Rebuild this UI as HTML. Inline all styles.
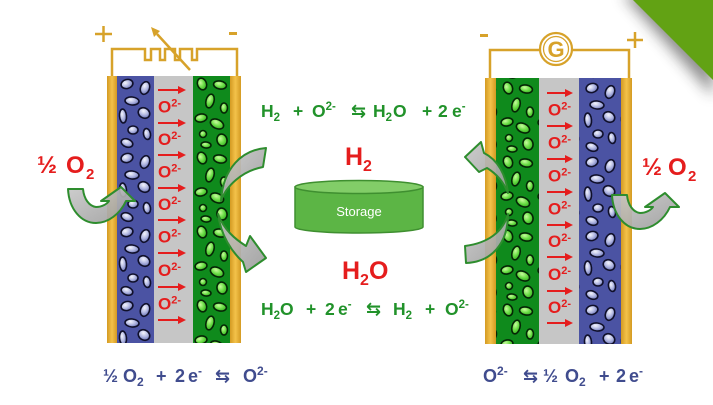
<!DOCTYPE html>
<html><head><meta charset="utf-8"><style>
html,body{margin:0;padding:0;background:#fff;}
svg{display:block;font-family:"Liberation Sans","DejaVu Sans",sans-serif;}
</style></head><body>
<svg width="713" height="405" viewBox="0 0 713 405" xmlns="http://www.w3.org/2000/svg">
<defs>
<radialGradient id="bg" cx="0.38" cy="0.35" r="0.75"><stop offset="0" stop-color="#f5f6fd"/><stop offset="0.5" stop-color="#b2b8e2"/><stop offset="1" stop-color="#5a64ac"/></radialGradient>
<radialGradient id="gg" cx="0.38" cy="0.35" r="0.75"><stop offset="0" stop-color="#c8fb9e"/><stop offset="0.5" stop-color="#6bde46"/><stop offset="1" stop-color="#2aa31b"/></radialGradient>
<linearGradient id="gold" x1="0" x2="1" y1="0" y2="0"><stop offset="0" stop-color="#d49a22"/><stop offset="0.5" stop-color="#f3c24a"/><stop offset="1" stop-color="#d49a22"/></linearGradient>
<linearGradient id="gray" x1="0" x2="1" y1="0" y2="1"><stop offset="0" stop-color="#c9c9c9"/><stop offset="1" stop-color="#9c9c9c"/></linearGradient>
<filter id="blur" x="-50%" y="-50%" width="200%" height="200%"><feGaussianBlur stdDeviation="7"/></filter>
<g id="bt" fill="url(#bg)" stroke="#10102a" stroke-width="1.6">
<ellipse cx="10" cy="8" rx="6" ry="4.5" transform="rotate(-15 10 8)"/>
<ellipse cx="28" cy="12" rx="4.5" ry="6.5" transform="rotate(20 28 12)"/>
<ellipse cx="15" cy="25" rx="7" ry="4" transform="rotate(5 15 25)"/>
<ellipse cx="6" cy="40" rx="3.5" ry="7" transform="rotate(-5 6 40)"/>
<ellipse cx="27" cy="37" rx="6" ry="5" transform="rotate(30 27 37)"/>
<ellipse cx="16" cy="54" rx="5" ry="4"/>
<ellipse cx="30" cy="58" rx="3.5" ry="5.5" transform="rotate(-10 30 58)"/>
<ellipse cx="10" cy="67" rx="6" ry="4" transform="rotate(20 10 67)"/>
</g>
<g id="gt" fill="url(#gg)" stroke="#052505" stroke-width="1.6">
<ellipse cx="9" cy="8" rx="4.5" ry="6" transform="rotate(-20 9 8)"/>
<ellipse cx="27" cy="9" rx="6.5" ry="4" transform="rotate(10 27 9)"/>
<ellipse cx="17" cy="25" rx="4" ry="7" transform="rotate(15 17 25)"/>
<ellipse cx="31" cy="32" rx="3.5" ry="5"/>
<ellipse cx="8" cy="42" rx="6" ry="4" transform="rotate(-10 8 42)"/>
<ellipse cx="24" cy="48" rx="7" ry="4.5" transform="rotate(25 24 48)"/>
<ellipse cx="10" cy="58" rx="3.5" ry="3.5"/>
<ellipse cx="29" cy="64" rx="5" ry="6" transform="rotate(-15 29 64)"/>
<ellipse cx="13" cy="69" rx="5" ry="3" transform="rotate(5 13 69)"/>
</g>
<pattern id="pBL" patternUnits="userSpaceOnUse" x="117" y="76" width="37" height="74"><use href="#bt"/></pattern>
<pattern id="pGL" patternUnits="userSpaceOnUse" x="193" y="76" width="37" height="74"><use href="#gt"/></pattern>
<pattern id="pGR" patternUnits="userSpaceOnUse" x="499" y="80" width="37" height="74"><use href="#gt"/></pattern>
<pattern id="pBR" patternUnits="userSpaceOnUse" x="582" y="80" width="37" height="74"><use href="#bt"/></pattern>
</defs>

<rect width="713" height="405" fill="#fff"/>

<!-- corner -->
<polygon points="622,-6 713,-6 713,96" fill="#333" opacity="0.55" filter="url(#blur)"/>
<polygon points="633,0 713,0 713,80" fill="#62a214"/>

<!-- left wiring -->
<g stroke="#d7a22a" stroke-width="2.5" fill="none">
<path d="M112,76 V49 H145 V60 H151 V49 H160 V60 H165 V49 H175 V60 H180 V49 H192 V60 H197 V49 H237 V76"/>
<line x1="190" y1="70" x2="157" y2="34"/>
<line x1="95" y1="34" x2="112" y2="34"/>
<line x1="103.5" y1="26" x2="103.5" y2="42"/>
<line x1="229" y1="33.5" x2="237" y2="33.5" stroke-width="3"/>
</g>
<polygon points="151,27 160,31 154,37" fill="#d7a22a"/>

<!-- right wiring -->
<g stroke="#d7a22a" stroke-width="2.5" fill="none">
<path d="M490,78 V50 H540"/>
<path d="M572,50 H629 V78"/>
<circle cx="556" cy="49" r="16" fill="#fff" stroke-width="2.2"/>
<circle cx="556" cy="49" r="12.5" stroke-width="1.3"/>
<line x1="480" y1="35.5" x2="488" y2="35.5" stroke-width="3"/>
<line x1="627" y1="40" x2="643" y2="40"/>
<line x1="635" y1="32" x2="635" y2="48"/>
</g>
<text x="556" y="57" font-size="22" font-weight="bold" fill="#d7a22a" text-anchor="middle">G</text>

<!-- left cell -->
<rect x="107" y="76" width="10" height="267" fill="url(#gold)"/>
<rect x="117" y="76" width="37" height="267" fill="#4b53a3"/>
<rect x="117" y="76" width="37" height="267" fill="url(#pBL)"/>
<rect x="154" y="76" width="39" height="267" fill="#c6c6c6"/>
<rect x="193" y="76" width="37" height="267" fill="#0f8a1c"/>
<rect x="193" y="76" width="37" height="267" fill="url(#pGL)"/>
<rect x="230" y="76" width="11" height="267" fill="url(#gold)"/>

<!-- right cell -->
<rect x="485" y="78" width="11" height="266" fill="url(#gold)"/>
<rect x="496" y="78" width="43" height="266" fill="#0f8a1c"/>
<rect x="496" y="78" width="43" height="266" fill="url(#pGR)"/>
<rect x="539" y="78" width="40" height="266" fill="#c6c6c6"/>
<rect x="579" y="78" width="42" height="266" fill="#4b53a3"/>
<rect x="579" y="78" width="42" height="266" fill="url(#pBR)"/>
<rect x="621" y="78" width="11" height="266" fill="url(#gold)"/>

<!-- red arrows -->
<g stroke="#e51d1d" stroke-width="2">
<line x1="158" y1="90" x2="179" y2="90"/><line x1="158" y1="123" x2="179" y2="123"/><line x1="158" y1="155" x2="179" y2="155"/><line x1="158" y1="188" x2="179" y2="188"/><line x1="158" y1="220" x2="179" y2="220"/><line x1="158" y1="253" x2="179" y2="253"/><line x1="158" y1="287" x2="179" y2="287"/><line x1="158" y1="320" x2="179" y2="320"/>
<line x1="547" y1="93" x2="566" y2="93"/><line x1="547" y1="126" x2="566" y2="126"/><line x1="547" y1="159" x2="566" y2="159"/><line x1="547" y1="192" x2="566" y2="192"/><line x1="547" y1="225" x2="566" y2="225"/><line x1="547" y1="257" x2="566" y2="257"/><line x1="547" y1="291" x2="566" y2="291"/><line x1="547" y1="323" x2="566" y2="323"/>
</g>
<g fill="#e51d1d">
<polygon points="186,90 178,86 178,94"/><polygon points="186,123 178,119 178,127"/><polygon points="186,155 178,151 178,159"/><polygon points="186,188 178,184 178,192"/><polygon points="186,220 178,216 178,224"/><polygon points="186,253 178,249 178,257"/><polygon points="186,287 178,283 178,291"/><polygon points="186,320 178,316 178,324"/>
<polygon points="573,93 565,89 565,97"/><polygon points="573,126 565,122 565,130"/><polygon points="573,159 565,155 565,163"/><polygon points="573,192 565,188 565,196"/><polygon points="573,225 565,221 565,229"/><polygon points="573,257 565,253 565,261"/><polygon points="573,291 565,287 565,295"/><polygon points="573,323 565,319 565,327"/>
</g>
<g fill="#e51d1d" font-size="17" font-weight="bold">
<text x="158" y="112.5">O<tspan font-size="11" dy="-6">2-</tspan></text>
<text x="158" y="145">O<tspan font-size="11" dy="-6">2-</tspan></text>
<text x="158" y="177.5">O<tspan font-size="11" dy="-6">2-</tspan></text>
<text x="158" y="210">O<tspan font-size="11" dy="-6">2-</tspan></text>
<text x="158" y="242.5">O<tspan font-size="11" dy="-6">2-</tspan></text>
<text x="158" y="276">O<tspan font-size="11" dy="-6">2-</tspan></text>
<text x="158" y="309.5">O<tspan font-size="11" dy="-6">2-</tspan></text>
<text x="548" y="115.5">O<tspan font-size="11" dy="-6">2-</tspan></text>
<text x="548" y="148.5">O<tspan font-size="11" dy="-6">2-</tspan></text>
<text x="548" y="181.5">O<tspan font-size="11" dy="-6">2-</tspan></text>
<text x="548" y="214.5">O<tspan font-size="11" dy="-6">2-</tspan></text>
<text x="548" y="247">O<tspan font-size="11" dy="-6">2-</tspan></text>
<text x="548" y="280">O<tspan font-size="11" dy="-6">2-</tspan></text>
<text x="548" y="313">O<tspan font-size="11" dy="-6">2-</tspan></text>
</g>

<!-- gray curved arrows -->
<g fill="url(#gray)" stroke="#2e8d2e" stroke-width="2" stroke-linejoin="round" fill-opacity="0.92">
<path d="M266,148 C242,150 223,168 221,201 C226,186 242,171 263,167 Z"/>
<path d="M218,214 C221,236 232,252 243,262 L246,272 L266,258 L250,236 L246,246 C235,239 224,230 218,214 Z"/>
<path d="M508,193 C506,175 498,160 484,153 L481,142 L465,157 L479,172 L487,168 C497,174 504,183 508,193 Z"/>
<path d="M508,214 C503,232 488,243 465,246 L466,263 C492,262 508,243 508,214 Z"/>
<path d="M612,195 L627,195 C628,205 633,212 640,213 C646,213 651,210 653,207 L645,207 L665,193 L679,207 L670,207 C664,220 652,229 640,229 C625,229 613,215 612,195 Z"/>
<path transform="translate(-544,-6)" d="M612,195 L627,195 C628,205 633,212 640,213 C646,213 651,210 653,207 L645,207 L665,193 L679,207 L670,207 C664,220 652,229 640,229 C625,229 613,215 612,195 Z"/>
</g>

<!-- storage cylinder -->
<path d="M295,187 V227 A64,6 0 0 0 423,227 V187 Z" fill="#5cb545" stroke="#3f8f30" stroke-width="1.5"/>
<ellipse cx="359" cy="187" rx="64" ry="6.5" fill="#82cd68" stroke="#3f8f30" stroke-width="1.5"/>
<text x="359" y="216" font-size="13" fill="#fff" text-anchor="middle">Storage</text>

<!-- red labels -->
<g fill="#e51d1d" font-weight="bold">
<text x="345" y="165" font-size="25">H</text><text x="363" y="171" font-size="16">2</text>
<text x="342" y="279" font-size="25">H</text><text x="360" y="285" font-size="16">2</text><text x="369" y="279" font-size="25">O</text>
<text x="37" y="173" font-size="24">½</text><text x="66" y="173" font-size="24">O</text><text x="86" y="179" font-size="15">2</text>
<text x="642" y="175" font-size="24">½</text><text x="668" y="175" font-size="24">O</text><text x="688" y="181" font-size="15">2</text>
</g>

<!-- green equations -->
<g fill="#21922a" font-weight="bold" font-size="17.5">
<text x="261" y="117">H<tspan font-size="11.5" dy="4">2</tspan></text>
<text x="293" y="117">+</text>
<text x="312" y="117">O<tspan font-size="11.5" dy="-7">2-</tspan></text>
<text x="351" y="117" font-size="18">⇆</text>
<text x="373" y="117">H<tspan font-size="11.5" dy="4">2</tspan></text>
<text x="393" y="117">O</text>
<text x="422" y="117">+</text>
<text x="438" y="117">2</text>
<text x="452" y="117">e<tspan font-size="11.5" dy="-7">-</tspan></text>

<text x="261" y="315">H<tspan font-size="11.5" dy="4">2</tspan></text>
<text x="280" y="315">O</text>
<text x="306" y="315">+</text>
<text x="325" y="315">2</text>
<text x="338" y="315">e<tspan font-size="11.5" dy="-7">-</tspan></text>
<text x="366" y="315" font-size="18">⇆</text>
<text x="393" y="315">H<tspan font-size="11.5" dy="4">2</tspan></text>
<text x="425" y="315">+</text>
<text x="445" y="315">O<tspan font-size="11.5" dy="-7">2-</tspan></text>
</g>

<!-- navy equations -->
<g fill="#404c8e" font-weight="bold" font-size="18">
<text x="103" y="382">½</text>
<text x="123" y="382">O<tspan font-size="12" dy="4">2</tspan></text>
<text x="156" y="382">+</text>
<text x="175" y="382">2</text>
<text x="188" y="382">e<tspan font-size="12" dy="-7">-</tspan></text>
<text x="215" y="382" font-size="18">⇆</text>
<text x="243" y="382">O<tspan font-size="12" dy="-7">2-</tspan></text>

<text x="483" y="382">O<tspan font-size="12" dy="-7">2-</tspan></text>
<text x="523" y="382" font-size="18">⇆</text>
<text x="543" y="382">½</text>
<text x="565" y="382">O<tspan font-size="12" dy="4">2</tspan></text>
<text x="599" y="382">+</text>
<text x="616" y="382">2</text>
<text x="629" y="382">e<tspan font-size="12" dy="-7">-</tspan></text>
</g>
</svg>
</body></html>
